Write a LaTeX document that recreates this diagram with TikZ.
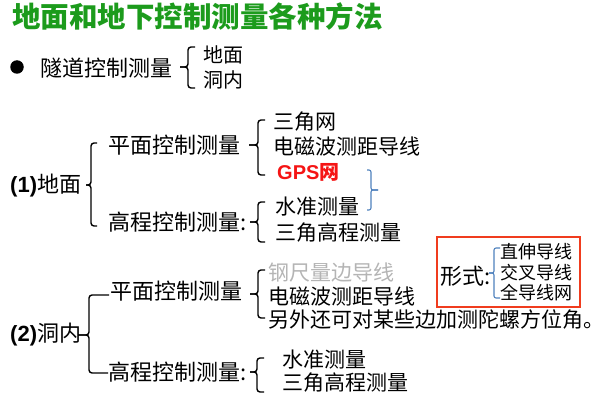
\documentclass[tikz,border=0pt]{standalone}
\usepackage{fontspec}
\setmainfont{Liberation Sans}
\newfontfamily\cjk{Noto Sans CJK SC}
\definecolor{titlegreen}{RGB}{28,155,28}
\definecolor{gpsred}{RGB}{245,20,20}
\definecolor{boxred}{RGB}{240,60,30}
\definecolor{bracblue}{RGB}{79,129,189}
\definecolor{lightgray}{RGB}{180,180,180}
\begin{document}
\begin{tikzpicture}[x=1pt,y=-1pt,
  txt/.style={anchor=west,inner sep=0pt,font=\cjk\fontsize{21}{21}\selectfont},
  lbl/.style={anchor=west,inner sep=0pt,font=\cjk\fontsize{22}{22}\selectfont},
  sml/.style={anchor=west,inner sep=0pt,font=\cjk\fontsize{18}{18}\selectfont},
  bk/.style={draw=black,line width=1.4pt,rounded corners=3pt},
  bb/.style={draw=bracblue,line width=1.1pt,rounded corners=2pt}
]
\useasboundingbox (0,0) rectangle (607,406);

% title
\node[anchor=west,inner sep=0pt,text=titlegreen,font=\cjk\bfseries\fontsize{28.5}{28.5}\selectfont] (title) at (12,17) {地面和地下控制测量各种方法};

% bullet line
\node[circle,fill=black,inner sep=0pt,minimum size=13.5pt] (dot) at (17,67) {};
\node[lbl] (sd) at (40,68) {隧道控制测量};
\node[anchor=west,inner sep=0pt,font=\cjk\fontsize{20}{20}\selectfont] (dm0) at (203,55) {地面};
\node[anchor=west,inner sep=0pt,font=\cjk\fontsize{20}{20}\selectfont] (dn0) at (203,80) {洞内};
\coordinate (Z0t) at (195,47); \coordinate (Z0b) at (195,88); \coordinate (Z0m) at (180,67);
\draw[bk] (Z0t) -- ++(-7,0) |- (Z0m);
\draw[bk] (Z0b) -- ++(-7,0) |- (Z0m);

% (1) ground
\node[anchor=west,inner sep=0pt] (g1) at (10,186) {\fontsize{22}{22}\selectfont{\bfseries(1)}\cjk\mdseries 地面};
\node[lbl] (p1) at (108,145) {平面控制测量};
\node[lbl] (h1) at (108,222) {高程控制测量:};
\coordinate (A1t) at (97,143); \coordinate (A1b) at (97,226); \coordinate (A1m) at (86,185);
\draw[bk] (A1t) -- ++(-6,0) |- (A1m);
\draw[bk] (A1b) -- ++(-6,0) |- (A1m);

\coordinate (B1t) at (265,120); \coordinate (B1b) at (265,175); \coordinate (B1m) at (249,145);
\draw[bk] (B1t) -- ++(-7,0) |- (B1m);
\draw[bk] (B1b) -- ++(-7,0) |- (B1m);
\node[txt] (t11) at (273,122) {三角网};
\node[txt] (t12) at (273,147) {电磁波测距导线};
\node[anchor=west,inner sep=0pt,text=gpsred] (t13) at (277,172) {\fontsize{20}{20}\selectfont\bfseries GPS\cjk 网};

\coordinate (C1t) at (367,170); \coordinate (C1b) at (367,210); \coordinate (C1m) at (378,190);
\draw[bb] (C1t) -- ++(4,0) |- (C1m);
\draw[bb] (C1b) -- ++(4,0) |- (C1m);

\coordinate (B2t) at (265,202); \coordinate (B2b) at (265,242); \coordinate (B2m) at (250,222);
\draw[bk] (B2t) -- ++(-7,0) |- (B2m);
\draw[bk] (B2b) -- ++(-7,0) |- (B2m);
\node[txt] (t21) at (275,207) {水准测量};
\node[txt] (t22) at (275,233) {三角高程测量};

% (2) tunnel
\node[anchor=west,inner sep=0pt] (g2) at (10,335) {\fontsize{22}{22}\selectfont{\bfseries(2)}\cjk\mdseries 洞内};
\node[lbl] (p2) at (110,291) {平面控制测量};
\node[lbl] (h2) at (108,372) {高程控制测量:};
\coordinate (A2t) at (109,295); \coordinate (A2b) at (108,373); \coordinate (A2m) at (78,335);
\draw[bk] (A2t) -- ++(-20,0) |- (A2m);
\draw[bk] (A2b) -- ++(-19,0) |- (A2m);

\coordinate (B3t) at (265,270); \coordinate (B3b) at (265,318); \coordinate (B3m) at (250,294);
\draw[bk] (B3t) -- ++(-7,0) |- (B3m);
\draw[bk] (B3b) -- ++(-7,0) |- (B3m);
\node[txt,text=lightgray] (t31) at (268,273) {钢尺量边导线};
\node[txt] (t32) at (268,297) {电磁波测距导线};
\node[txt] (t33) at (268,320) {另外还可对某些边加测陀螺方位角。};

\coordinate (B4t) at (264,358); \coordinate (B4b) at (264,392); \coordinate (B4m) at (250,372);
\draw[bk] (B4t) -- ++(-7,0) |- (B4m);
\draw[bk] (B4b) -- ++(-7,0) |- (B4m);
\node[txt] (t41) at (282,360) {水准测量};
\node[txt] (t42) at (282,383) {三角高程测量};

% forms box
\node[draw=boxred,line width=2pt,minimum width=143pt,minimum height=70pt,inner sep=0pt] (box) at (508.5,272) {};
\node[lbl] (fs) at (440,276) {形式:};
\coordinate (C2t) at (500,248); \coordinate (C2b) at (500,298); \coordinate (C2m) at (489,273);
\draw[bb] (C2t) -- ++(-6,0) |- (C2m);
\draw[bb] (C2b) -- ++(-6,0) |- (C2m);
\node[sml] (t51) at (500,252) {直伸导线};
\node[sml] (t52) at (500,273) {交叉导线};
\node[sml] (t53) at (500,293) {全导线网};
\end{tikzpicture}
\end{document}
